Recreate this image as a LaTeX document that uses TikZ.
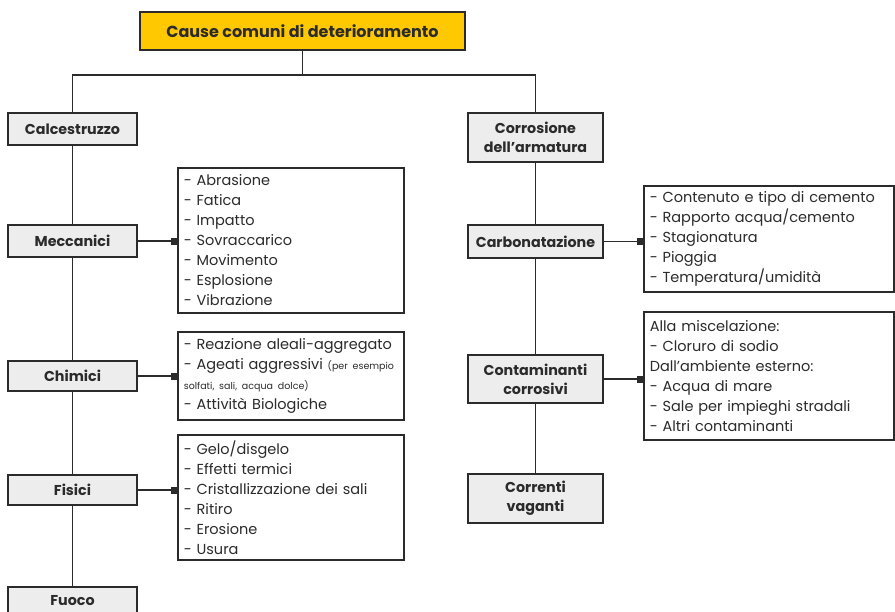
\documentclass[tikz,border=0pt]{standalone}
\usepackage{fontspec}
\setmainfont{Poppins}
\usepackage{xcolor}
\usetikzlibrary{arrows.meta}
\definecolor{linec}{HTML}{2B2B2B}
\definecolor{boxgray}{HTML}{EDEDED}
\definecolor{gold}{HTML}{FFC800}
\begin{document}
\begin{tikzpicture}[x=1pt,y=-1pt,
  box/.style={draw=linec,line width=1.6pt,fill=boxgray,text=linec,inner sep=0pt,
    font=\bfseries\fontsize{14.3}{19}\selectfont,align=center,minimum width=129pt,minimum height=32pt},
  list/.style={draw=linec,line width=1.6pt,fill=white,text=linec,anchor=west,inner xsep=6pt,inner ysep=0pt,
    font=\fontsize{14.5}{20}\selectfont,align=left},
  link/.style={draw=linec,line width=1.2pt},
  tip/.style={link,-{Square[length=6pt,width=7pt]}}]
\useasboundingbox (0,0) rectangle (895,611);
\node[box,fill=gold,minimum width=325pt,minimum height=38pt,font=\bfseries\fontsize{16}{18}\selectfont] (title) at (302.5,31) {Cause comuni di deterioramento};
\coordinate (split) at (302.5,75);
% calcestruzzo
\node[box] (calc) at (72.5,129) {Calcestruzzo};
\node[box] (mecc) at (72.5,241) {Meccanici};
\node[box,minimum height=30pt] (chim) at (72.5,376) {Chimici};
\node[box,minimum height=30pt] (fis) at (72.5,490) {Fisici};
\node[box,minimum height=27pt] (fuoco) at (72.5,600.5) {Fuoco};
\node[list,text width=214pt,minimum height=145pt] (meccl) at (177,240.5) {- Abrasione\\- Fatica\\- Impatto\\- Sovraccarico\\- Movimento\\- Esplosione\\- Vibrazione};
\node[list,text width=214pt,minimum height=88pt] (chiml) at (177,376) {- Reazione aleali-aggregato\\- Ageati aggressivi {\fontsize{9.5}{19}\selectfont (per esempio}\\{\fontsize{9.5}{19}\selectfont solfati, sali, acqua dolce)}\\- Attività Biologiche};
\node[list,text width=214pt,minimum height=125pt] (fisl) at (177,497.5) {- Gelo/disgelo\\- Effetti termici\\- Cristallizzazione dei sali\\- Ritiro\\- Erosione\\- Usura};
% armatura
\node[box,minimum width=135pt,minimum height=49pt] (corr) at (535.5,137.5) {Corrosione\\dell'armatura};
\node[box,minimum width=135pt,minimum height=33pt] (carb) at (535.5,241.5) {Carbonatazione};
\node[box,minimum width=135pt,minimum height=48pt] (cont) at (535.5,379) {Contaminanti\\corrosivi};
\node[box,minimum width=135pt,minimum height=49pt] (corv) at (535.5,498.5) {Correnti\\vaganti};
\node[list,text width=238pt,minimum height=106pt] (carbl) at (643,239) {- Contenuto e tipo di cemento\\- Rapporto acqua/cemento\\- Stagionatura\\- Pioggia\\- Temperatura/umidità};
\node[list,text width=238pt,minimum height=128pt] (contl) at (643,376) {Alla miscelazione:\\- Cloruro di sodio\\Dall'ambiente esterno:\\- Acqua di mare\\- Sale per impieghi stradali\\- Altri contaminanti};
\draw[link] (title) -- (split);
\draw[link] (calc.north) |- (split) -| (corr.north);
\draw[link] (calc) -- (mecc) -- (chim) -- (fis) -- (fuoco);
\draw[link] (corr) -- (carb) -- (cont) -- (corv);
\draw[tip] (mecc.east) -- (mecc.east -| meccl.west);
\draw[tip] (chim.east) -- (chim.east -| chiml.west);
\draw[tip] (fis.east) -- (fis.east -| fisl.west);
\draw[tip] (carb.east) -- (carb.east -| carbl.west);
\draw[tip] (cont.east) -- (cont.east -| contl.west);
\end{tikzpicture}
\end{document}
